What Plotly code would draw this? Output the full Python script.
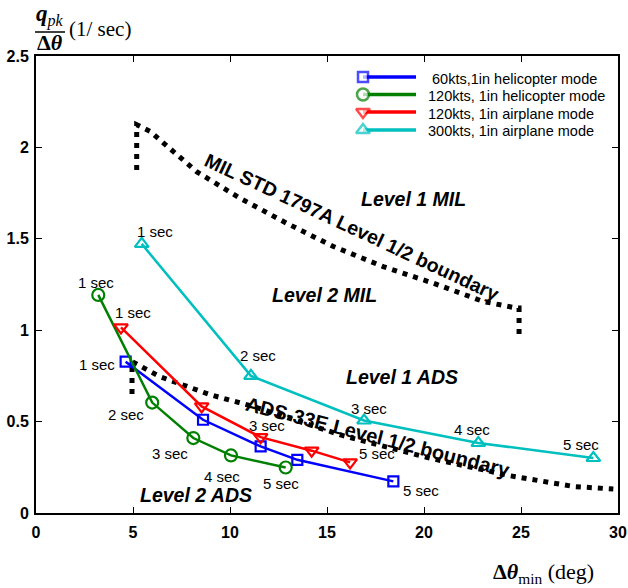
import plotly.graph_objects as go

# ---------------- data ----------------
heli60_x = [4.62, 8.61, 11.58, 13.47, 18.42]
heli60_y = [0.828, 0.510, 0.364, 0.291, 0.173]

heli120_x = [3.21, 5.99, 8.11, 10.05, 12.87]
heli120_y = [1.193, 0.604, 0.410, 0.315, 0.249]

plane120_x = [4.38, 8.54, 11.58, 14.21, 16.19]
plane120_y = [1.015, 0.583, 0.415, 0.341, 0.277]

plane300_x = [5.45, 11.08, 16.91, 22.80, 28.73]
plane300_y = [1.472, 0.750, 0.506, 0.383, 0.301]

mil_x = [5.19, 5.19, 5.88, 8.28, 10.52, 12.92, 15.33, 17.90, 20.48, 23.06, 24.78, 24.90, 24.90]
mil_y = [1.876, 2.124, 2.088, 1.867, 1.722, 1.585, 1.458, 1.348, 1.257, 1.157, 1.121, 1.121, 0.964]

ads_x = [4.95, 4.95, 6.39, 8.97, 11.20, 14.12, 15.82, 20.30, 24.43, 27.70, 29.76]
ads_y = [0.651, 0.828, 0.746, 0.647, 0.583, 0.483, 0.423, 0.300, 0.204, 0.145, 0.131]

series_names = [
    " 60kts,1in helicopter mode",
    "120kts, 1in helicopter mode",
    "120kts, 1in airplane mode",
    "300kts, 1in airplane mode",
]
time_labels = ["1 sec", "2 sec", "3 sec", "4 sec", "5 sec"]

# ---------------- styling ----------------
SANS = "Liberation Sans, Arial, sans-serif"
SERIF = "Liberation Serif, Times New Roman, serif"

series = [
    dict(x=heli60_x, y=heli60_y, color="#0000FF", symbol="square", size=10),
    dict(x=heli120_x, y=heli120_y, color="#008000", symbol="circle", size=12),
    dict(x=plane120_x, y=plane120_y, color="#FF0000", symbol="triangle-down", size=12),
    dict(x=plane300_x, y=plane300_y, color="#00BFBF", symbol="triangle-up", size=12),
]

# which points carry a time label, with pixel offsets of the label (dx right, dy up)
label_offsets = [
    {0: (-29, -3), 4: (28, -9)},
    {0: (-2, 12), 1: (-26, -12), 2: (-23, -15), 3: (-9, -21), 4: (-5, -16)},
    {0: (12, 15), 2: (6, 12), 4: (27, 9)},
    {0: (13, 12), 1: (7, 20), 2: (5, 12), 3: (-6, 13), 4: (-12, 13)},
]

W, H = 628, 588
ML, MR, MT, MB = 36, 10, 56, 75
PW, PH = W - ML - MR, H - MT - MB


def px(xp):
    return (xp - ML) / PW


def py(yp):
    return (H - MB - yp) / PH


fig = go.Figure()

# boundaries
for bx, by in [(mil_x, mil_y), (ads_x, ads_y)]:
    fig.add_trace(go.Scatter(
        x=bx, y=by, mode="lines", showlegend=False, hoverinfo="skip",
        line=dict(color="black", width=5, dash="5px,6px"),
    ))

# data series
for s in series:
    fig.add_trace(go.Scatter(
        x=s["x"], y=s["y"], mode="lines+markers", showlegend=False,
        line=dict(color=s["color"], width=2.5),
        marker=dict(symbol=s["symbol"] + "-open", size=s["size"],
                    color=s["color"], line=dict(width=2.2, color=s["color"])),
    ))

annotations = []
for s, offs in zip(series, label_offsets):
    for i, (dx, dy) in offs.items():
        annotations.append(dict(
            x=s["x"][i], y=s["y"][i], xref="x", yref="y", text=time_labels[i],
            showarrow=False, xshift=dx, yshift=dy,
            font=dict(family=SANS, size=15, color="black"),
        ))

# region labels
for txt, x, y in [("Level 1 MIL", 19.46, 1.717), ("Level 2 MIL", 14.85, 1.193),
                  ("Level 1 ADS", 18.87, 0.745), ("Level 2 ADS", 8.25, 0.100)]:
    annotations.append(dict(
        x=x, y=y, xref="x", yref="y", text="<b><i>" + txt + "</i></b>",
        showarrow=False, font=dict(family=SANS, size=19.5, color="black"),
    ))

# boundary labels
annotations.append(dict(x=16.29, y=1.565, xref="x", yref="y", showarrow=False,
                        text="<b>MIL STD 1797A Level 1/2 boundary</b>", textangle=25,
                        font=dict(family=SANS, size=19.5, color="black")))
annotations.append(dict(x=17.63, y=0.417, xref="x", yref="y", showarrow=False,
                        text="<b>ADS-33E Level 1/2 boundary</b>", textangle=14.3,
                        font=dict(family=SANS, size=20, color="black")))

# legend drawn inside the plot, top right
leg_rows = [77, 94.5, 112, 130]
leg_marker_x, leg_line_end, leg_text_x = 363, 416, 426
for s, name, ry in zip(series, series_names, leg_rows):
    fig.add_trace(go.Scatter(
        x=[px(leg_marker_x), px(leg_line_end)], y=[py(ry), py(ry)],
        xaxis="x2", yaxis="y2", mode="lines+markers", showlegend=False, hoverinfo="skip",
        line=dict(color=s["color"], width=3.5),
        marker=dict(symbol=s["symbol"], size=[s["size"], 0], color="white",
                    line=dict(width=2.5, color=s["color"])),
    ))
    annotations.append(dict(
        x=px(leg_text_x), y=py(ry + 1.5), xref="paper", yref="paper", text=name,
        showarrow=False, xanchor="left", yanchor="middle",
        font=dict(family=SANS, size=14.5, color="black"),
    ))

# axis titles
annotations += [
    dict(x=px(50), y=py(16), xref="paper", yref="paper", showarrow=False,
         text="<b><i>q</i></b><sub><i>pk</i></sub>", xanchor="center", yanchor="middle",
         font=dict(family=SERIF, size=23, color="black")),
    dict(x=px(50), y=py(43), xref="paper", yref="paper", showarrow=False,
         text="<b>Δ<i>θ</i></b>", xanchor="center", yanchor="middle",
         font=dict(family=SERIF, size=22, color="black")),
    dict(x=px(67), y=py(29), xref="paper", yref="paper", showarrow=False,
         text="(1/ sec)", xanchor="left", yanchor="middle",
         font=dict(family=SERIF, size=21, color="black")),
    dict(x=px(543), y=py(573), xref="paper", yref="paper", showarrow=False,
         text="<b>Δ<i>θ</i></b><sub>min</sub> (deg)", xanchor="center", yanchor="middle",
         font=dict(family=SERIF, size=22, color="black")),
]

shapes = [dict(type="line", xref="paper", yref="paper",
               x0=px(35), x1=px(65), y0=py(32), y1=py(32),
               line=dict(color="black", width=1.5))]

axis_common = dict(
    showgrid=False, zeroline=False, showline=True, linecolor="black", linewidth=2,
    mirror="ticks", ticks="inside", ticklen=6, tickwidth=1.2, tickcolor="black",
    automargin=False,
    tickfont=dict(family=SANS, size=16, color="black", weight="bold"),
)

fig.update_layout(
    width=W, height=H,
    margin=dict(l=ML, r=MR, t=MT, b=MB, pad=0, autoexpand=False),
    paper_bgcolor="white", plot_bgcolor="white",
    showlegend=False,
    xaxis=dict(range=[0, 30], tickvals=[0, 5, 10, 15, 20, 25, 30], ticklabelstandoff=4,
               **axis_common),
    yaxis=dict(range=[0, 2.5], tickvals=[0, 0.5, 1, 1.5, 2, 2.5],
               ticktext=["0", "0.5", "1", "1.5", "2", "2.5"], ticklabelstandoff=2,
               **axis_common),
    xaxis2=dict(range=[0, 1], visible=False, overlaying="x", domain=[0, 1]),
    yaxis2=dict(range=[0, 1], visible=False, overlaying="y", domain=[0, 1]),
    annotations=annotations,
    shapes=shapes,
)

fig.write_html("out.html")
